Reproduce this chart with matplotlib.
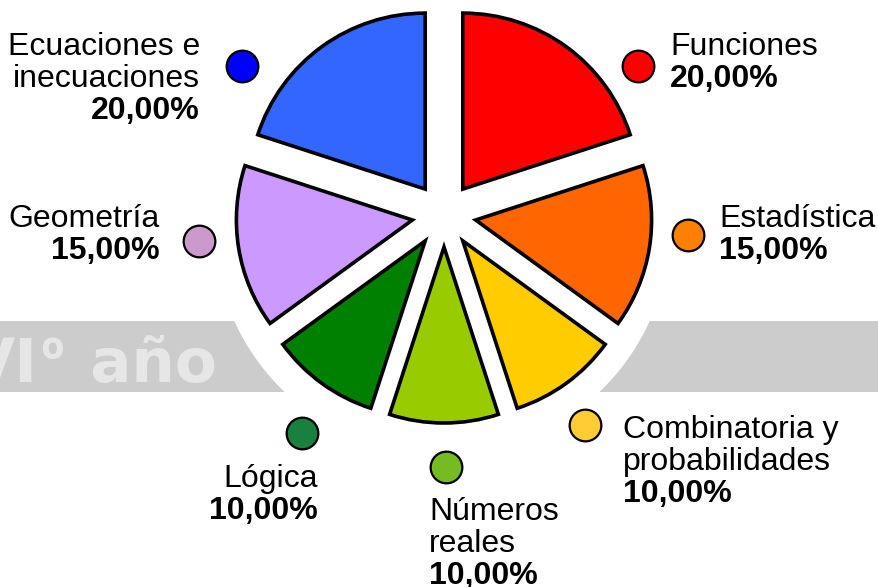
import matplotlib
matplotlib.use("Agg")
import matplotlib.pyplot as plt
from matplotlib.patches import Circle

# ---- data ----
categories = ["Funciones", "Estadística", "Combinatoria y\nprobabilidades",
              "Números\nreales", "Lógica", "Geometría", "Ecuaciones e\ninecuaciones"]
values = [20.0, 15.0, 10.0, 10.0, 10.0, 15.0, 20.0]
slice_colors = ["#ff0000", "#ff6600", "#ffcc00", "#99cc00", "#008000", "#cc99ff", "#3366ff"]
marker_colors = ["#ff0000", "#ff8000", "#ffcc33", "#77bb22", "#1a8040", "#cc99cc", "#0000ff"]
band_text_parts = ["VI", "º", " año"]

# ---- layout (pixel coordinates, y downward) ----
W, H = 879, 587
pie_center = (444, 215)
pie_radius = 176
explode_dist = 32
# label anchor: (x, ha, first baseline)
label_pos = [(670, "left", 55), (719, "left", 227), (623, "left", 438),
             (429, "left", 520), (318, "right", 487), (160, "right", 227),
             (200, "right", 55)]
marker_pos = [(638, 66), (688, 235), (585, 425), (446, 467), (302, 433), (199, 241), (242, 66)]
line_step = 32

fig = plt.figure(figsize=(W / 100, H / 100), dpi=100)
ax = fig.add_axes([0, 0, 1, 1])

font = "Liberation Sans"

# background band
ax.axhspan(321, 392, color="#cccccc", zorder=0, lw=0)
band_kw = dict(va="baseline", fontsize=44, fontweight="bold", color="#e6e6e6", zorder=1)
ax.text(38, 382, band_text_parts[0], ha="right", family="DejaVu Sans", **band_kw)
ax.text(40, 382, band_text_parts[1], ha="left", family="Open Sans", **band_kw)
ax.text(217, 382, band_text_parts[2], ha="right", family="DejaVu Sans", **band_kw)
ax.add_patch(Circle((442, 227), 228, facecolor="white", edgecolor="none", zorder=2))

wedges, _ = ax.pie(values, colors=slice_colors, radius=pie_radius, center=pie_center,
                   explode=[explode_dist] * len(values), startangle=-90, counterclock=True,
                   wedgeprops=dict(edgecolor="black", linewidth=2.6, joinstyle="miter"))
for w in wedges:
    w.set_zorder(3)

for cat, val, (lx, ha, by), (mx, my), mc in zip(categories, values, label_pos, marker_pos, marker_colors):
    lines = cat.split("\n")
    for i, ln in enumerate(lines):
        ax.text(lx, by + i * line_step, ln, ha=ha, va="baseline", fontsize=23,
                family=font, color="black", zorder=5)
    pct = f"{val:.2f}".replace(".", ",") + "%"
    ax.text(lx, by + len(lines) * line_step, pct, ha=ha, va="baseline", fontsize=23,
            family=font, fontweight="bold", color="black", zorder=5)
    ax.scatter([mx], [my], s=520, color=mc, edgecolors="black", linewidths=1.6, zorder=5)

ax.set_xlim(0, W)
ax.set_ylim(H, 0)
ax.set_aspect("auto")
ax.axis("off")

fig.savefig("out.png", dpi=100)
